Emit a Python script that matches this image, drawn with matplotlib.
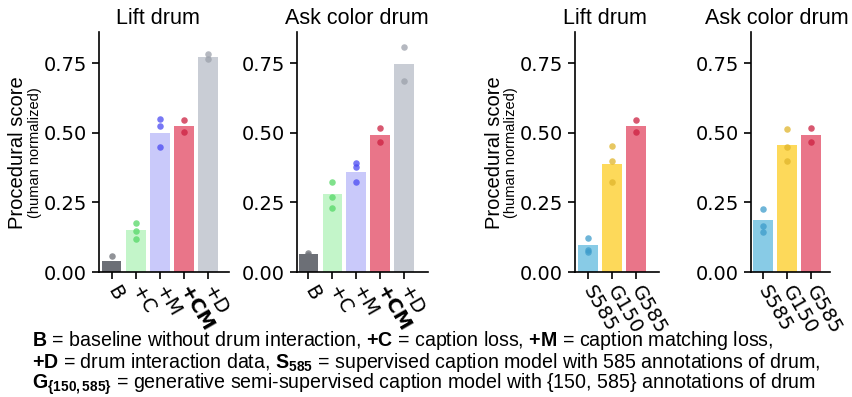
import matplotlib
matplotlib.use("Agg")
import matplotlib.pyplot as plt

CAP_FONT = "Liberation Sans"
plt.rcParams["mathtext.fontset"] = "custom"
plt.rcParams["mathtext.rm"] = CAP_FONT
plt.rcParams["mathtext.bf"] = CAP_FONT + ":bold"
plt.rcParams["mathtext.it"] = CAP_FONT + ":italic"

TASKS = ["Lift drum", "Ask color drum"]

ABL_LABELS = ["B", "+C", "+M", "+CM", "+D"]
ABL_BARS = [[0.038, 0.15, 0.498, 0.524, 0.772],
            [0.064, 0.28, 0.359, 0.492, 0.748]]
ABL_PTS = [[[0.056, 0.022], [0.176, 0.148, 0.119], [0.548, 0.524, 0.45],
            [0.546, 0.504], [0.782, 0.764]],
           [[0.07, 0.06], [0.325, 0.27, 0.23], [0.39, 0.377, 0.325],
            [0.517, 0.467], [0.808, 0.685]]]

SUP_LABELS = ["S585", "G150", "G585"]
SUP_BARS = [[0.096, 0.388, 0.524],
            [0.186, 0.456, 0.492]]
SUP_PTS = [[[0.122, 0.078, 0.071], [0.451, 0.4, 0.323], [0.546, 0.504]],
           [[0.227, 0.166, 0.142], [0.514, 0.449, 0.397], [0.517, 0.467]]]

ABL_BAR_C = ["#6c6f76", "#c3f5c9", "#c9c9fa", "#e97589", "#c9cdd5"]
ABL_PT_C = ["#6c6f76", "#55d866", "#4b4bf2", "#cc2040", "#9ca1ab"]
SUP_BAR_C = ["#88cbe6", "#fdd95a", "#e97589"]
SUP_PT_C = ["#3d9ccb", "#e0b52c", "#cc2040"]

W, H = 852, 397
fig = plt.figure(figsize=(W / 100, H / 100), dpi=100)

# (axes left px, width px, xlim, title centre px, ylabel?)
panels = [
    (99, 130, (-0.52, 4.87), 158, True, ABL_LABELS, ABL_BARS[0], ABL_PTS[0], ABL_BAR_C, ABL_PT_C, TASKS[0]),
    (297, 131, (-0.48, 5.0), 357, False, ABL_LABELS, ABL_BARS[1], ABL_PTS[1], ABL_BAR_C, ABL_PT_C, TASKS[1]),
    (575, 84, (-0.52, 2.95), 605, True, SUP_LABELS, SUP_BARS[0], SUP_PTS[0], SUP_BAR_C, SUP_PT_C, TASKS[0]),
    (751, 79, (-0.48, 2.78), 777, False, SUP_LABELS, SUP_BARS[1], SUP_PTS[1], SUP_BAR_C, SUP_PT_C, TASKS[1]),
]

for left, w, xl, tcx, ylab, labels, bars, pts, bc, pc, title in panels:
    ax = fig.add_axes([left / W, 125 / H, w / W, 240 / H])
    xs = range(len(labels))
    ax.bar(xs, bars, width=0.82, color=bc, linewidth=0)
    for i, vals in enumerate(pts):
        ax.scatter([i] * len(vals), vals, s=22, color=pc[i], alpha=0.75,
                   linewidths=0, zorder=3)
    ax.set_xlim(*xl)
    ax.set_ylim(0, 0.862)
    ax.set_yticks([0, 0.25, 0.5, 0.75])
    ax.set_yticklabels(["0.00", "0.25", "0.50", "0.75"])
    ax.set_xticks(list(xs))
    ax.set_xticklabels(labels, rotation=-60, ha="left", va="center",
                       rotation_mode="anchor")
    for t in ax.get_xticklabels():
        if t.get_text() == "+CM":
            t.set_fontweight("bold")
    ax.tick_params(labelsize=14, length=5, width=1.2, colors="black")
    ax.tick_params(axis="x", pad=6)
    for s in ("top", "right"):
        ax.spines[s].set_visible(False)
    for s in ("left", "bottom"):
        ax.spines[s].set_linewidth(1.2)
    fig.text(tcx / W, 1 - 18 / H, title, fontsize=15.5, family="Liberation Sans",
             ha="center", va="center")
    if ylab:
        fig.text((left - 81) / W, 1 - 153 / H, "Procedural score", rotation=90,
                 ha="center", va="center", fontsize=14.5, family="Liberation Sans")
        fig.text((left - 64) / W, 1 - 153 / H, "(human normalized)", rotation=90,
                 ha="center", va="center", fontsize=10.5, family="Liberation Sans")

caption = [
    r"$\mathbf{B}$ = baseline without drum interaction, $\mathbf{+C}$ = caption loss, "
    r"$\mathbf{+M}$ = caption matching loss,",
    r"$\mathbf{+D}$ = drum interaction data, $\mathbf{S_{585}}$ = supervised caption model "
    r"with 585 annotations of drum,",
    r"$\mathbf{G_{\{150,585\}}}$ = generative semi-supervised caption model with "
    r"{150, 585} annotations of drum",
]
cap_txt = []
for k, line in enumerate(caption):
    cap_txt.append(fig.text(32 / W, 1 - (340 + 22 * k) / H, line, fontsize=14,
                            family=CAP_FONT, ha="left", va="center"))

# fit the caption width to the reference (second line ends near x=821)
fig.canvas.draw()
wid = cap_txt[1].get_window_extent().width
for t in cap_txt:
    t.set_fontsize(14 * 789 / wid)

fig.savefig("out.png", dpi=100)
